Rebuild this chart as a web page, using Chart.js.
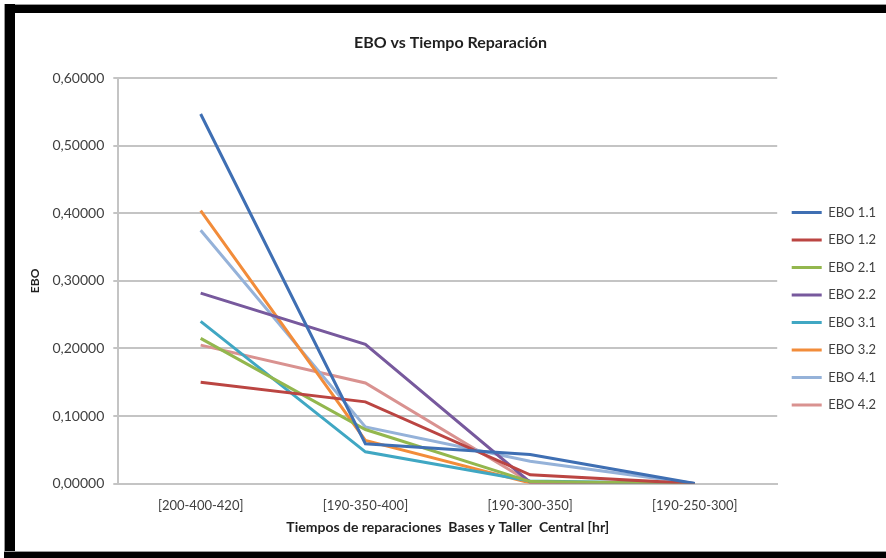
<!DOCTYPE html>
<html>
<head>
<meta charset="utf-8">
<script src="https://cdn.jsdelivr.net/npm/chart.js@4.4.1/dist/chart.umd.min.js"></script>
<style>
  body { margin: 0; background: #fff; width: 886px; height: 558px; overflow: hidden; position: relative; }
  #frameTop { position: absolute; left: 4px; top: 4px; width: 882px; height: 9px; background: #000; border-top: 1px solid #999; box-sizing: border-box; }
  #frameLeft { position: absolute; left: 4px; top: 4px; width: 11px; height: 554px; background: #000; border-left: 1px solid #999; box-sizing: border-box; }
  #frameBottom { position: absolute; left: 4px; top: 551px; width: 882px; height: 7px; background: #000; border-top: 1px solid #999; box-sizing: border-box; }
  #wrap { position: absolute; left: 15px; top: 13px; width: 871px; height: 538px; }
</style>
</head>
<body>
<div id="frameTop"></div>
<div id="frameLeft"></div>
<div id="frameBottom"></div>
<div id="wrap"><canvas id="chartEbo"></canvas></div>
<script>
// Datos
const categorias = ['[200-400-420]', '[190-350-400]', '[190-300-350]', '[190-250-300]'];
const ebo11 = [0.547, 0.059, 0.043, 0.000];
const ebo12 = [0.150, 0.121, 0.013, 0.000];
const ebo21 = [0.215, 0.080, 0.003, 0.000];
const ebo22 = [0.282, 0.206, 0.002, 0.000];
const ebo31 = [0.240, 0.047, 0.004, 0.000];
const ebo32 = [0.404, 0.064, 0.001, 0.000];
const ebo41 = [0.375, 0.084, 0.033, 0.000];
const ebo42 = [0.205, 0.149, 0.002, 0.000];

const series = [
  { label: 'EBO 1.1', data: ebo11, color: '#3F6FB3' },
  { label: 'EBO 1.2', data: ebo12, color: '#BB4542' },
  { label: 'EBO 2.1', data: ebo21, color: '#93B74E' },
  { label: 'EBO 2.2', data: ebo22, color: '#77599D' },
  { label: 'EBO 3.1', data: ebo31, color: '#40A7C3' },
  { label: 'EBO 3.2', data: ebo32, color: '#F28C3A' },
  { label: 'EBO 4.1', data: ebo41, color: '#95B2D9' },
  { label: 'EBO 4.2', data: ebo42, color: '#D99290' },
];

const FONT = 'Lato, "Open Sans", sans-serif';
Chart.defaults.font.family = FONT;
Chart.defaults.color = '#404040';

const ctx = document.getElementById('chartEbo').getContext('2d');
new Chart(ctx, {
  type: 'line',
  data: {
    labels: categorias,
    datasets: series.map(s => ({
      label: s.label,
      data: s.data,
      borderColor: s.color,
      backgroundColor: s.color,
      borderWidth: 3,
      pointRadius: 0,
      pointStyle: 'line',
      tension: 0,
      fill: false,
    }))
  },
  options: {
    responsive: true,
    maintainAspectRatio: false,
    animation: false,
    layout: { padding: { left: 0, right: 0, bottom: 15 } },
    plugins: {
      title: {
        display: true,
        text: 'EBO vs Tiempo Reparación',
        color: '#1f1f1f',
        font: { size: 16, weight: 'bold' },
        padding: { top: 20, bottom: 26 }
      },
      legend: {
        position: 'right',
        // título vacío para bajar el bloque de la leyenda
        title: { display: true, text: ' ', font: { size: 12 }, padding: 27 },
        labels: {
          usePointStyle: true,
          pointStyleWidth: 30,
          boxHeight: 13,
          padding: 14.5,
          color: '#404040',
          font: { size: 13 }
        }
      },
      tooltip: { enabled: false }
    },
    scales: {
      x: {
        offset: true,
        grid: { display: false, drawTicks: false },
        border: { display: true, color: '#c4c4c4', width: 2 },
        ticks: { font: { size: 13 }, padding: 14 },
        title: {
          display: true,
          text: 'Tiempos de reparaciones  Bases y Taller  Central [hr]',
          color: '#1f1f1f',
          font: { size: 14, weight: 'bold' },
          padding: { top: -8, bottom: 0 }
        }
      },
      y: {
        min: 0,
        max: 0.6,
        ticks: {
          stepSize: 0.1,
          padding: 9,
          font: { size: 14 },
          callback: v => v.toFixed(5).replace('.', ',')
        },
        grid: { color: '#c4c4c4', lineWidth: 2, tickLength: 5, drawTicks: true },
        border: { display: true, color: '#c4c4c4', width: 2 },
        title: {
          display: true,
          text: 'EBO',
          color: '#1f1f1f',
          font: { size: 12, weight: 'bold' },
          padding: { top: 13, bottom: 1 }
        }
      }
    }
  }
});
</script>
</body>
</html>
